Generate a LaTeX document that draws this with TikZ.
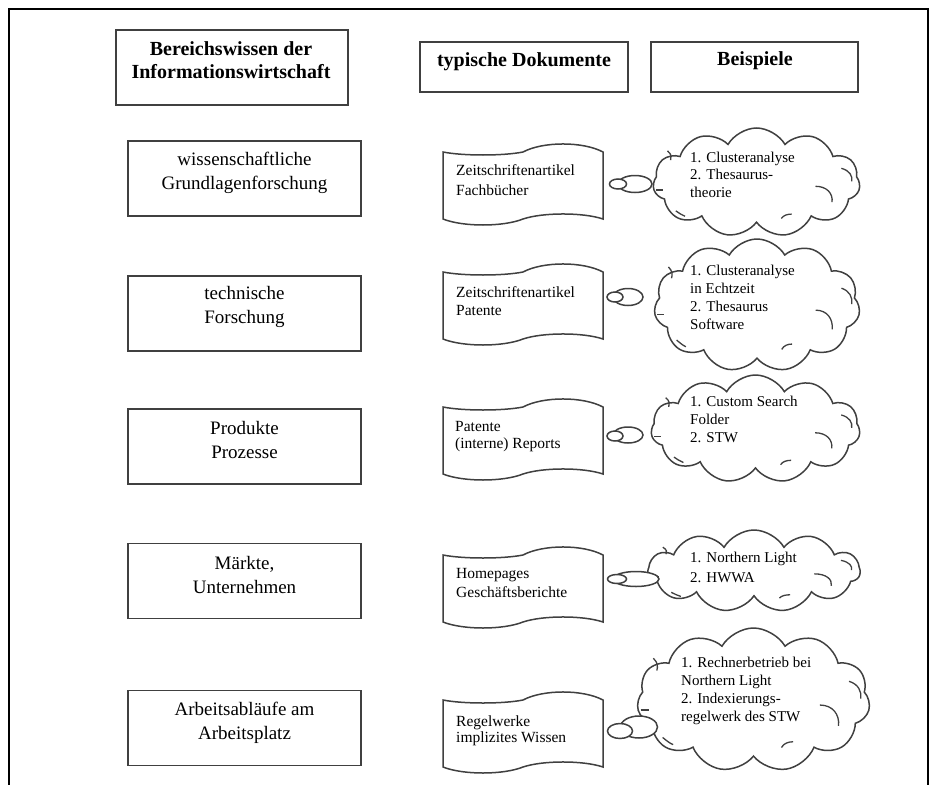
\documentclass[tikz,border=0pt]{standalone}
\usepackage{fontspec}
\setmainfont{Liberation Serif}
\usetikzlibrary{shapes.symbols,shapes.geometric}

\tikzset{
  ln/.style={draw=black!75, line width=1.5pt},
  boxed/.style={ln, fill=white, inner sep=0pt, rectangle},
  lefttxt/.style={align=center, inner sep=0pt, font=\fontsize{19}{24}\selectfont},
  headtxt/.style={align=center, inner sep=0pt, font=\bfseries\fontsize{20}{23}\selectfont},
  doctxt/.style={align=left, anchor=west, inner sep=0pt, font=\fontsize{15.5}{#1}\selectfont},
  cloudtxt/.style={align=left, anchor=west, inner sep=0pt, font=\fontsize{15}{#1}\selectfont},
  bubble/.style={cloud, cloud puffs=11, cloud puff arc=120, cloud ignores aspect, ln, fill=white, inner sep=0pt},
  tailoval/.style={ellipse, ln, fill=white, inner sep=0pt},
  tapedoc/.pic={
    \draw[ln, fill=white] (0,0) .. controls (20,4) and (60,4) .. (80,0)
      .. controls (100,-10.7) and (140,-10.7) .. (160,0) -- (160,67)
      .. controls (140,60.3) and (100,60.3) .. (80,67)
      .. controls (60,75) and (20,75) .. (0,67) -- cycle;
  },
  cloudmarks/.pic={
    \draw[ln, line width=1.3pt] (0.57,0.07) .. controls (0.68,0.07) and (0.74,0.2) .. (0.73,0.36);
    \draw[ln, line width=1.3pt] (0.82,-0.26) .. controls (0.9,-0.22) and (0.93,-0.12) .. (0.92,-0.02);
    \draw[ln, line width=1.3pt] (0.24,0.66) .. controls (0.26,0.6) and (0.3,0.58) .. (0.34,0.58);
    \draw[ln, line width=1.3pt] (-0.78,0.52) .. controls (-0.75,0.56) and (-0.72,0.6) .. (-0.69,0.62);
    \draw[ln, line width=1.3pt] (-0.86,-0.58) .. controls (-0.82,-0.52) and (-0.82,-0.46) .. (-0.83,-0.41);
    \draw[ln, line width=1.3pt] (-0.97,0.14) -- (-0.9,0.14);
  }
}

\begin{document}
\begin{tikzpicture}[x=1pt, y=-1pt]
\useasboundingbox (0,0) rectangle (936,784);
\fill[white] (0,0) rectangle (936,784);
% outer frame
\draw[line width=2.5pt, black] (9,786) -- (9,9) -- (928,9) -- (928,786);

% headers
\node[boxed, minimum width=232, minimum height=75] (h1) at (232,67.5) {};
\node[headtxt] (h1t) at (231,60) {Bereichswissen der\\Informationswirtschaft};
\node[boxed, minimum width=208, minimum height=50] (h2) at (524,67) {};
\node[headtxt] (h2t) at (524,62) {typische Dokumente};
\node[boxed, minimum width=207, minimum height=50] (h3) at (754.5,67) {};
\node[headtxt] (h3t) at (755,61) {Beispiele};

% left column
\node[boxed, minimum width=233, minimum height=75] (b1) at (244.5,178.5) {};
\node[lefttxt] (l1) at (244.5,172.5) {wissenschaftliche\\Grundlagenforschung};
\node[boxed, minimum width=233, minimum height=75] (b2) at (244.5,313.5) {};
\node[lefttxt] (l2) at (244.5,306.5) {technische\\Forschung};
\node[boxed, minimum width=233, minimum height=75] (b3) at (244.5,446.5) {};
\node[lefttxt] (l3) at (244.5,440) {Produkte\\Prozesse};
\node[boxed, minimum width=233, minimum height=75] (b4) at (244.5,581) {};
\node[lefttxt] (l4) at (244.5,575) {Märkte,\\Unternehmen};
\node[boxed, minimum width=233, minimum height=75] (b5) at (244.5,728) {};
\node[lefttxt] (l5) at (244.5,723) {Arbeitsabläufe am\\Arbeitsplatz};

% documents
\pic at (443,152) {tapedoc};
\node[doctxt=20] (d1) at (456,180) {Zeitschriftenartikel\\Fachbücher};
\pic at (443,272) {tapedoc};
\node[doctxt=18] (d2) at (456,301) {Zeitschriftenartikel\\Patente};
\pic at (443,407) {tapedoc};
\node[doctxt=17] (d3) at (455,436.5) {Patente\\(interne) Reports};
\pic at (443,555) {tapedoc};
\node[doctxt=19] (d4) at (456,582.5) {Homepages\\Geschäftsberichte};
\pic at (443,700) {tapedoc};
\node[doctxt=16] (d5) at (456,730.5) {Regelwerke\\implizites Wissen};

% clouds
\node[bubble, minimum width=207, minimum height=109] (c1) at (756.5,182.5) {};
\pic[xscale=103.5, yscale=54.5] at (c1.center) {cloudmarks};
\node[cloudtxt=17.5] (c1t) at (690,174.7) {1. Clusteranalyse\\2. Thesaurus-\\theorie};
\node[bubble, minimum width=206, minimum height=133] (c2) at (757,305.5) {};
\pic[xscale=103, yscale=66.5] at (c2.center) {cloudmarks};
\node[cloudtxt=18] (c2t) at (690,297.7) {1. Clusteranalyse\\in Echtzeit\\2. Thesaurus\\Software};
\node[bubble, minimum width=209, minimum height=108] (c3) at (755.5,429) {};
\pic[xscale=104.5, yscale=54] at (c3.center) {cloudmarks};
\node[cloudtxt=18] (c3t) at (690,419.7) {1. Custom Search\\Folder\\2. STW};
\node[bubble, minimum width=212, minimum height=82] (c4) at (754,571) {};
\pic[xscale=106, yscale=41] at (c4.center) {cloudmarks};
\node[cloudtxt=20] (c4t) at (690,567) {1. Northern Light\\2. HWWA};
\node[bubble, minimum width=233, minimum height=144] (c5) at (753.5,700) {};
\pic[xscale=116.5, yscale=72] at (c5.center) {cloudmarks};
\node[cloudtxt=18] (c5t) at (681,691) {1. Rechnerbetrieb bei\\Northern Light\\2. Indexierungs-\\regelwerk des STW};

% thought tails
\node[tailoval, minimum width=34, minimum height=17] (t1b) at (635,184) {};
\node[tailoval, minimum width=17, minimum height=10] (t1a) at (618,184) {};
\node[tailoval, minimum width=30, minimum height=17] (t2b) at (628,297) {};
\node[tailoval, minimum width=16, minimum height=10] (t2a) at (615,297) {};
\node[tailoval, minimum width=30, minimum height=16] (t3b) at (628,435) {};
\node[tailoval, minimum width=16, minimum height=10] (t3a) at (615,436) {};
\node[tailoval, minimum width=46, minimum height=15] (t4b) at (636,579) {};
\node[tailoval, minimum width=19, minimum height=9] (t4a) at (617,579) {};
\node[tailoval, minimum width=37, minimum height=22] (t5b) at (639,727) {};
\node[tailoval, minimum width=25, minimum height=15] (t5a) at (620,731) {};
\end{tikzpicture}
\end{document}
